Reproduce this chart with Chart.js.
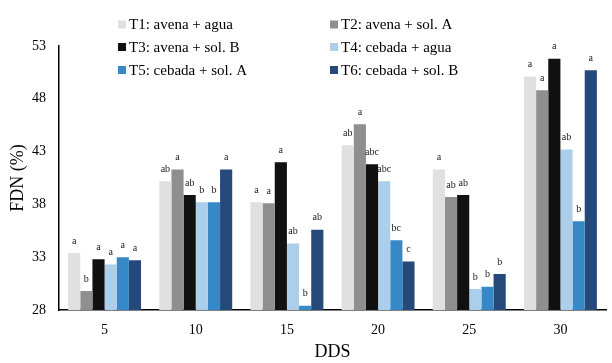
<!DOCTYPE html>
<html><head><meta charset="utf-8">
<script src="https://cdn.jsdelivr.net/npm/chart.js@4/dist/chart.umd.min.js"></script>
<style>html,body{margin:0;padding:0;background:#fff;}#wrap{width:612px;height:363px;position:relative;}</style>
</head><body><div id="wrap"><canvas id="c" width="612" height="363"></canvas></div>
<script>
const categories = ['5', '10', '15', '20', '25', '30'];
const seriesNames = ['T1: avena + agua', 'T2: avena + sol. A', 'T3: avena + sol. B', 'T4: cebada + agua', 'T5: cebada + sol. A', 'T6: cebada + sol. B'];
const t1 = [33.4, 40.2, 38.2, 43.6, 41.3, 50.1];
const t2 = [29.8, 41.3, 38.1, 45.6, 38.7, 48.8];
const t3 = [32.8, 38.9, 42.0, 41.8, 38.9, 51.8];
const t4 = [32.3, 38.2, 34.3, 40.2, 30.0, 43.2];
const t5 = [33.0, 38.2, 28.4, 34.6, 30.2, 36.4];
const t6 = [32.7, 41.3, 35.6, 32.6, 31.4, 50.7];
const l1 = ['a', 'ab', 'a', 'ab', 'a', 'a'];
const l2 = ['b', 'a', 'a', 'a', 'ab', 'a'];
const l3 = ['a', 'ab', 'a', 'abc', 'ab', 'a'];
const l4 = ['a', 'b', 'ab', 'abc', 'b', 'ab'];
const l5 = ['a', 'b', 'b', 'bc', 'b', 'b'];
const l6 = ['a', 'a', 'ab', 'c', 'b', 'a'];
const yTicks = [28, 33, 38, 43, 48, 53];
const colors = ['#e0e0e0', '#8f8f8f', '#111111', '#abcfeb', '#3788c6', '#254a7a'];

const values = [t1, t2, t3, t4, t5, t6];
const letters = [l1, l2, l3, l4, l5, l6];
const SERIF = '"Liberation Serif", "DejaVu Serif", serif';

const letterPlugin = {
  id: 'letters',
  afterDatasetsDraw(chart) {
    const ctx = chart.ctx;
    ctx.save();
    ctx.font = '10px ' + SERIF;
    ctx.fillStyle = '#1a1a1a';
    ctx.textAlign = 'center';
    ctx.textBaseline = 'middle';
    chart.data.datasets.forEach((ds, i) => {
      const meta = chart.getDatasetMeta(i);
      meta.data.forEach((el, j) => {
        ctx.fillText(ds.letters[j], el.x, el.y - 12);
      });
    });
    ctx.restore();
  }
};

const legendPlugin = {
  id: 'customLegend',
  afterDraw(chart) {
    const ctx = chart.ctx;
    const colX = [118, 330];
    const rowY = [24.5, 47, 70];
    ctx.save();
    ctx.font = '15px ' + SERIF;
    ctx.textBaseline = 'middle';
    ctx.textAlign = 'left';
    chart.data.datasets.forEach((ds, i) => {
      const x = colX[i % 2], y = rowY[Math.floor(i / 2)];
      ctx.fillStyle = ds.backgroundColor;
      ctx.fillRect(x, y - 4, 8, 8);
      ctx.fillStyle = '#000';
      ctx.fillText(ds.label, x + 11, y + 1);
    });
    ctx.restore();
  }
};

new Chart(document.getElementById('c'), {
  type: 'bar',
  data: {
    labels: categories,
    datasets: values.map((v, i) => ({
      label: seriesNames[i],
      data: v,
      letters: letters[i],
      backgroundColor: colors[i],
      borderWidth: 0,
      categoryPercentage: 0.8,
      barPercentage: 1.0
    }))
  },
  options: {
    responsive: false,
    animation: false,
    devicePixelRatio: 1,
    layout: { padding: { top: 46, right: 6, left: 0, bottom: 0 } },
    plugins: { legend: { display: false }, tooltip: { enabled: false } },
    scales: {
      x: {
        grid: { display: false, drawTicks: false },
        border: { display: true, color: '#000', width: 1.5 },
        ticks: { color: '#000', font: { family: SERIF, size: 14 }, padding: 12, maxRotation: 0 },
        title: { display: true, text: 'DDS', color: '#000', font: { family: SERIF, size: 18 }, padding: { top: 6, bottom: 0 } },
        afterFit(s) { s.height = 53; }
      },
      y: {
        min: 28, max: 53,
        afterBuildTicks(s) { s.ticks = yTicks.map(v => ({ value: v })); },
        grid: { display: false, drawTicks: false },
        border: { display: true, color: '#000', width: 1.5 },
        ticks: { color: '#000', font: { family: SERIF, size: 14 }, padding: 13 },
        title: { display: true, text: 'FDN (%)', color: '#000', font: { family: SERIF, size: 18 }, padding: { top: 7, bottom: 4 } },
        afterFit(s) { s.width = 59; }
      }
    }
  },
  plugins: [letterPlugin, legendPlugin]
});
</script></body></html>
